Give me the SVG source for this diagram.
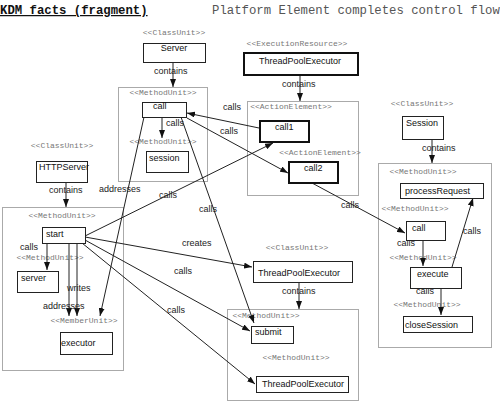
<svg xmlns="http://www.w3.org/2000/svg" width="500" height="404" viewBox="0 0 500 404">
<defs>
<marker id="ah" viewBox="0 0 8 6" refX="8" refY="3" markerWidth="8" markerHeight="6" markerUnits="userSpaceOnUse" orient="auto">
<path d="M0,0 L8,3 L0,6 z" fill="#111"/>
</marker>
<style>
.cont{fill:none;stroke:#aaa;stroke-width:1}
.box{fill:#fff;stroke:#222;stroke-width:1}
.thick{fill:#fff;stroke:#111;stroke-width:2}
.st{font-family:"Liberation Mono",monospace;font-size:8px;fill:#777;text-anchor:middle}
.lb{font-family:"Liberation Sans",Arial,sans-serif;font-size:9px;fill:#111}
.el{font-family:"Liberation Sans",Arial,sans-serif;font-size:9px;fill:#222}
.edge{stroke:#222;stroke-width:1;fill:none;marker-end:url(#ah)}
</style>
</defs>
<rect width="500" height="404" fill="#fff"/>
<text x="0" y="14" font-family="Liberation Mono,monospace" font-size="12.3" font-weight="bold" fill="#111" text-decoration="underline">KDM facts (fragment)</text>
<text x="212" y="14" font-family="Liberation Mono,monospace" font-size="12.3" fill="#555">Platform Element completes control flow</text>

<g id="containers">
<rect class="cont" x="118.5" y="87.5" width="89" height="94"/>
<rect class="cont" x="247.5" y="101.5" width="111" height="94"/>
<rect class="cont" x="378.5" y="163.5" width="113" height="184"/>
<rect class="cont" x="2.5" y="207.5" width="121" height="163"/>
<rect class="cont" x="227.5" y="309.5" width="131" height="91"/>
</g>

<g id="stereotypes">
<text class="st" x="174" y="35">&lt;&lt;ClassUnit&gt;&gt;</text>
<text class="st" x="163" y="95">&lt;&lt;MethodUnit&gt;&gt;</text>
<text class="st" x="163" y="144">&lt;&lt;MethodUnit&gt;&gt;</text>
<text class="st" x="297" y="46">&lt;&lt;ExecutionResource&gt;&gt;</text>
<text class="st" x="291" y="109">&lt;&lt;ActionElement&gt;&gt;</text>
<text class="st" x="320" y="155">&lt;&lt;ActionElement&gt;&gt;</text>
<text class="st" x="422" y="106">&lt;&lt;ClassUnit&gt;&gt;</text>
<text class="st" x="423" y="174">&lt;&lt;MethodUnit&gt;&gt;</text>
<text class="st" x="415" y="211">&lt;&lt;MethodUnit&gt;&gt;</text>
<text class="st" x="423" y="260">&lt;&lt;MethodUnit&gt;&gt;</text>
<text class="st" x="427" y="307">&lt;&lt;MethodUnit&gt;&gt;</text>
<text class="st" x="62" y="148">&lt;&lt;ClassUnit&gt;&gt;</text>
<text class="st" x="62" y="218">&lt;&lt;MethodUnit&gt;&gt;</text>
<text class="st" x="50" y="260">&lt;&lt;MethodUnit&gt;&gt;</text>
<text class="st" x="84" y="323">&lt;&lt;MemberUnit&gt;&gt;</text>
<text class="st" x="297" y="250">&lt;&lt;ClassUnit&gt;&gt;</text>
<text class="st" x="266" y="318">&lt;&lt;MethodUnit&gt;&gt;</text>
<text class="st" x="296" y="360">&lt;&lt;MethodUnit&gt;&gt;</text>
</g>

<g id="connectors">
<line class="edge" x1="173" y1="62" x2="173" y2="87"/>
<line class="edge" x1="300" y1="75" x2="300" y2="101"/>
<line class="edge" x1="432" y1="139" x2="432" y2="163"/>
<line class="edge" x1="66" y1="182" x2="66" y2="207"/>
<line class="edge" x1="299" y1="282" x2="299" y2="309"/>
<line class="edge" x1="162" y1="117" x2="162" y2="138"/>
<line class="edge" x1="259" y1="128" x2="187" y2="113"/>
<line class="edge" x1="187" y1="118" x2="288" y2="173"/>
<line class="edge" x1="85" y1="236" x2="273" y2="143"/>
<line class="edge" x1="144" y1="117" x2="100" y2="316"/>
<line class="edge" x1="181" y1="117" x2="254" y2="323"/>
<line class="edge" x1="85" y1="237" x2="252" y2="267"/>
<line class="edge" x1="85" y1="240" x2="250" y2="331"/>
<line class="edge" x1="82" y1="243" x2="255" y2="384"/>
<line class="edge" x1="47" y1="243" x2="47" y2="270"/>
<line class="edge" x1="69" y1="243" x2="69" y2="316"/>
<line class="edge" x1="77" y1="243" x2="77" y2="316"/>
<line class="edge" x1="312" y1="183" x2="405" y2="233"/>
<line class="edge" x1="423" y1="240" x2="423" y2="266"/>
<line class="edge" x1="452" y1="267" x2="473" y2="198"/>
<line class="edge" x1="441" y1="288" x2="441" y2="315"/>
</g>

<g id="edge-labels">
<text class="el" x="154" y="74">contains</text>
<text class="el" x="282" y="87">contains</text>
<text class="el" x="422" y="151">contains</text>
<text class="el" x="49" y="193">contains</text>
<text class="el" x="282" y="294">contains</text>
<text class="el" x="166" y="126">calls</text>
<text class="el" x="223" y="110">calls</text>
<text class="el" x="220" y="134">calls</text>
<text class="el" x="99" y="192">addresses</text>
<text class="el" x="159" y="198">calls</text>
<text class="el" x="199" y="212">calls</text>
<text class="el" x="182" y="246">creates</text>
<text class="el" x="174" y="274">calls</text>
<text class="el" x="167" y="313">calls</text>
<text class="el" x="20" y="250">calls</text>
<text class="el" x="67" y="291">writes</text>
<text class="el" x="43" y="309">addresses</text>
<text class="el" x="341" y="208">calls</text>
<text class="el" x="397" y="246">calls</text>
<text class="el" x="463" y="234">calls</text>
<text class="el" x="416" y="294">calls</text>
</g>

<g id="n-server"><rect class="box" x="143.5" y="43.5" width="62" height="19"/><text class="lb" x="174" y="51" text-anchor="middle">Server</text></g>
<g id="n-call"><rect class="box" x="142.5" y="102.5" width="44" height="15"/><text class="lb" x="153" y="109">call</text></g>
<g id="n-session"><rect class="box" x="146.5" y="151.5" width="42" height="21"/><text class="lb" x="149" y="161">session</text></g>
<g id="n-tpe-er"><rect class="thick" x="244" y="53" width="114" height="22"/><text class="lb" x="259" y="64">ThreadPoolExecutor</text></g>
<g id="n-call1"><rect class="thick" x="260" y="121" width="49" height="21"/><text class="lb" x="275" y="130">call1</text></g>
<g id="n-call2"><rect class="thick" x="289" y="162" width="49" height="21"/><text class="lb" x="304" y="171">call2</text></g>
<g id="n-Session"><rect class="box" x="402.5" y="116.5" width="41" height="23"/><text class="lb" x="406" y="126">Session</text></g>
<g id="n-processRequest"><rect class="box" x="400.5" y="183.5" width="83" height="15"/><text class="lb" x="405" y="194">processRequest</text></g>
<g id="n-call-s"><rect class="box" x="406.5" y="221.5" width="39" height="19"/><text class="lb" x="412" y="231">call</text></g>
<g id="n-execute"><rect class="box" x="410.5" y="267.5" width="51" height="21"/><text class="lb" x="417" y="277">execute</text></g>
<g id="n-closeSession"><rect class="box" x="403.5" y="316.5" width="69" height="16"/><text class="lb" x="405" y="328">closeSession</text></g>
<g id="n-httpserver"><rect class="box" x="36.5" y="161.5" width="51" height="21"/><text class="lb" x="39" y="170">HTTPServer</text></g>
<g id="n-start"><rect class="box" x="42.5" y="227.5" width="43" height="16"/><text class="lb" x="46" y="237">start</text></g>
<g id="n-srv"><rect class="box" x="17.5" y="271.5" width="41" height="21"/><text class="lb" x="21" y="281">server</text></g>
<g id="n-executor"><rect class="box" x="60.5" y="332.5" width="52" height="22"/><text class="lb" x="61" y="346">executor</text></g>
<g id="n-tpe-class"><rect class="box" x="253.5" y="261.5" width="99" height="21"/><text class="lb" x="258" y="276">ThreadPoolExecutor</text></g>
<g id="n-submit"><rect class="box" x="251.5" y="326.5" width="42" height="17"/><text class="lb" x="255" y="335">submit</text></g>
<g id="n-tpe-method"><rect class="box" x="256.5" y="376.5" width="92" height="16"/><text class="lb" x="262" y="387">ThreadPoolExecutor</text></g>
</svg>
